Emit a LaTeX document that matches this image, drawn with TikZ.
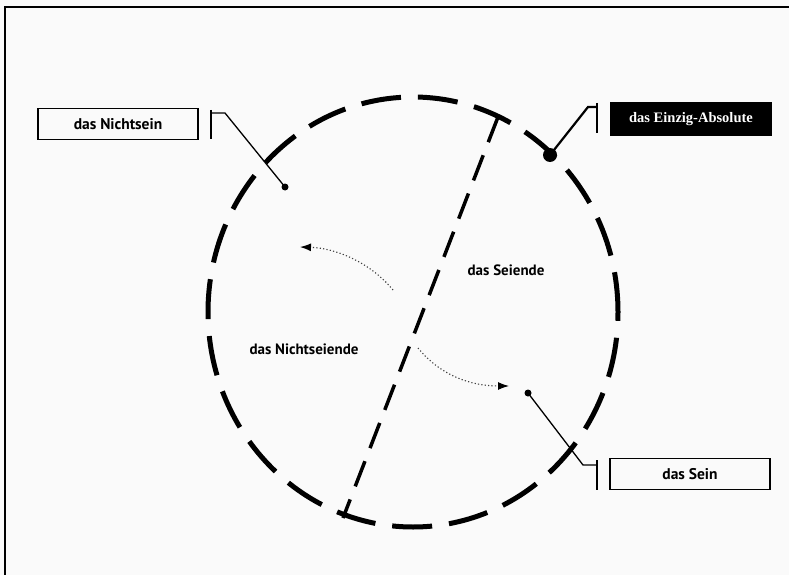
\documentclass[tikz,border=0pt]{standalone}
\usepackage{fontspec}
\setmainfont{PT Sans}
\newfontfamily\serifbold{Liberation Serif}
\usetikzlibrary{arrows.meta}
\begin{document}
\begin{tikzpicture}[x=1pt,y=-1pt,
  lbl/.style={font=\bfseries\fontsize{15}{17}\selectfont, inner sep=0pt},
  labelbox/.style={draw=black, line width=1.4pt, minimum width=160pt, minimum height=31pt, inner sep=0pt, font=\bfseries\fontsize{15.5}{17}\selectfont},
  blackbox/.style={fill=black, text=white, minimum width=162pt, minimum height=34pt, inner sep=0pt, font=\serifbold\bfseries\fontsize{14.5}{16}\selectfont},
  bar/.style={line width=1.4pt},
  leader/.style={line width=1.3pt},
  dot/.style={circle, fill=black, inner sep=0pt, minimum size=7pt},
  bigdot/.style={circle, fill=black, inner sep=0pt, minimum size=14pt},
  circ/.style={line width=5pt, dash pattern=on 40pt off 17pt},
  diam/.style={line width=3.5pt, dash pattern=on 27pt off 14pt},
  dotarr/.style={line width=1.1pt, dash pattern=on 1.2pt off 2.2pt, black!75, -{Latex[length=11pt,width=8pt,black]}}
]
\useasboundingbox (0,0) rectangle (789,575);
\fill[black!2] (0,0) rectangle (789,575);
% frame
\draw[line width=2pt] (5,575) -- (5,7) -- (789,7);

% circle
\draw[circ] (413,312) ellipse [x radius=205pt, y radius=215pt];

% diameter
\coordinate (dtop) at (498,117);
\coordinate (dbot) at (343,518);
\draw[diam] (dtop) -- (dbot);

% labels inside
\node[lbl] (seiende) at (506,270) {das Seiende};
\node[lbl] (nichtseiende) at (304,349) {das Nichtseiende};

% dotted arrows
\coordinate (a1s) at (393,290);
\coordinate (a1e) at (300,247);
\coordinate (a2s) at (418,348);
\coordinate (a2e) at (509,386);
\draw[dotarr] (a1s) .. controls (370,262) and (335,248) .. (a1e);
\draw[dotarr] (a2s) .. controls (440,375) and (470,386) .. (a2e);

% das Nichtsein
\node[labelbox] (nichtsein) at (118,124) {das Nichtsein};
\node[dot] (d1) at (285,187) {};
\coordinate (b1t) at (211,110);
\coordinate (b1b) at (211,139);
\coordinate (k1) at (225,113);
\draw[bar] (b1t) -- (b1b);
\draw[leader] (d1.center) -- (k1) -- (211,113);

% das Einzig-Absolute
\node[blackbox] (absolut) at (691,119) {das Einzig-Absolute};
\node[bigdot] (d2) at (550,155) {};
\coordinate (b2t) at (597,103);
\coordinate (b2b) at (597,133);
\coordinate (k2) at (588,107);
\draw[bar] (b2t) -- (b2b);
\draw[leader, line width=2.2pt] (d2.center) -- (k2) -- (597,107);

% das Sein
\node[labelbox] (sein) at (690,474) {das Sein};
\node[dot] (d3) at (528,393) {};
\coordinate (b3t) at (597,460);
\coordinate (b3b) at (597,490);
\coordinate (k3) at (583,465);
\draw[bar] (b3t) -- (b3b);
\draw[leader] (d3.center) -- (k3) -- (597,465);
\end{tikzpicture}
\end{document}
